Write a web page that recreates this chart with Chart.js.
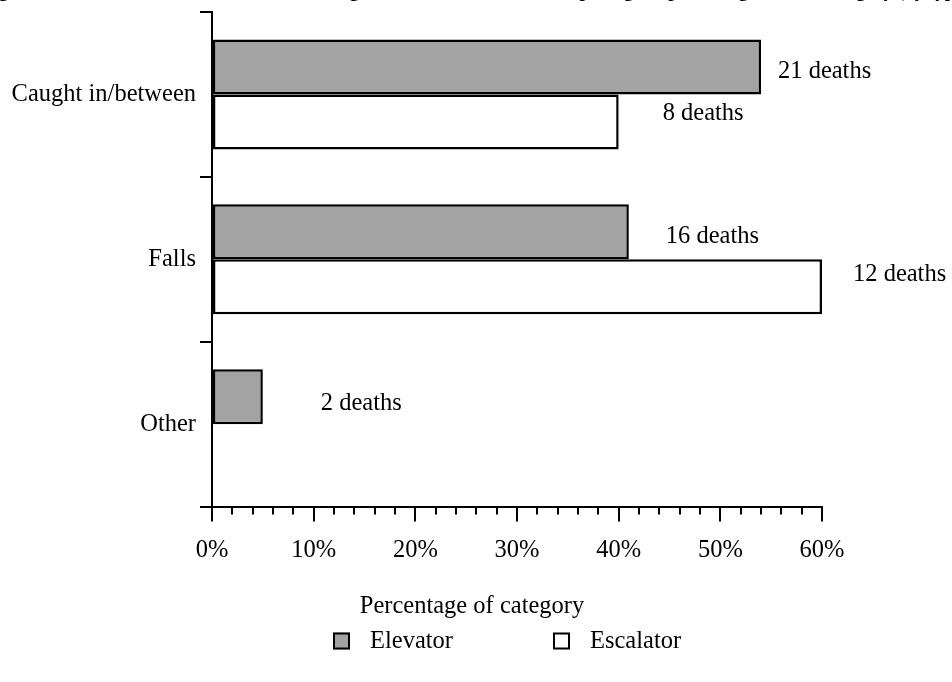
<!DOCTYPE html>
<html>
<head>
<meta charset="utf-8">
<script src="https://cdn.jsdelivr.net/npm/chart.js@4/dist/chart.umd.min.js"></script>
<style>
  html, body { margin: 0; padding: 0; background: #fff; }
  #wrap { position: relative; width: 952px; height: 682px; }
</style>
</head>
<body>
<div id="wrap"><canvas id="chart"></canvas></div>
<script>
// data
const categories = ["Caught in/between", "Falls", "Other"];
const elevatorPct = [54, 41, 5];
const escalatorPct = [40, 60, null];
const elevatorDeaths = [21, 16, 2];
const escalatorDeaths = [8, 12, null];
const xMajorTicks = [0, 10, 20, 30, 40, 50, 60];
const xMinorTicks = [2, 4, 6, 8, 12, 14, 16, 18, 22, 24, 26, 28, 32, 34, 36, 38, 42, 44, 46, 48, 52, 54, 56, 58];

const FONT = "'Liberation Serif', 'Times New Roman', serif";
const FS = 24.5;
const figTitle = "Figure 5. Elevator and escalator deaths among construction workers, comparing the percentage of each category (by type)";
const xTitle = "Percentage of category";

// label nudges (dx from bar end, dy from bar middle) like the hand placed ones
const labelOffsets = [
  [[17, 5], [37, 5], [58, 7]],
  [[44, -8], [31, -12], [0, 0]],
];

const minorTickPlugin = {
  id: "minorTicks",
  afterDraw(chart) {
    const { ctx, scales: { x }, chartArea } = chart;
    ctx.save();
    ctx.strokeStyle = "#000";
    ctx.lineWidth = 2;
    xMinorTicks.forEach((v) => {
      const px = Math.round(x.getPixelForValue(v));
      ctx.beginPath();
      ctx.moveTo(px, chartArea.bottom);
      ctx.lineTo(px, chartArea.bottom + 8);
      ctx.stroke();
    });
    ctx.restore();
  },
};

const deathLabelPlugin = {
  id: "deathLabels",
  afterDatasetsDraw(chart) {
    const { ctx } = chart;
    const deaths = [elevatorDeaths, escalatorDeaths];
    ctx.save();
    ctx.font = FS + "px " + FONT;
    ctx.fillStyle = "#000";
    ctx.textAlign = "left";
    ctx.textBaseline = "middle";
    chart.data.datasets.forEach((ds, di) => {
      const meta = chart.getDatasetMeta(di);
      meta.data.forEach((bar, i) => {
        const n = deaths[di][i];
        if (n == null) return;
        const [dx, dy] = labelOffsets[di][i];
        ctx.fillText(n + " deaths", bar.x + dx, bar.y + dy);
      });
    });
    ctx.restore();
  },
};

// figure title sits mostly above the page edge; axis title is centred on the page
const textPlugin = {
  id: "pageText",
  afterDraw(chart) {
    const { ctx } = chart;
    ctx.save();
    ctx.fillStyle = "#000";
    ctx.textAlign = "center";
    ctx.textBaseline = "alphabetic";
    ctx.font = "bold 19px " + FONT;
    ctx.fillText(figTitle, chart.width / 2, -3);
    ctx.font = FS + "px " + FONT;
    ctx.textBaseline = "middle";
    ctx.fillText(xTitle, 472, 607);
    ctx.restore();
  },
};

const legendPlugin = {
  id: "boxLegend",
  afterDraw(chart) {
    const { ctx } = chart;
    const xs = [333, 553];
    const y = 641;
    ctx.save();
    ctx.font = FS + "px " + FONT;
    ctx.textAlign = "left";
    ctx.textBaseline = "middle";
    chart.data.datasets.forEach((ds, i) => {
      ctx.fillStyle = ds.backgroundColor;
      ctx.fillRect(xs[i], y - 8.5, 17, 17);
      ctx.strokeStyle = "#000";
      ctx.lineWidth = 2;
      ctx.strokeRect(xs[i] + 1, y - 7.5, 15, 15);
      ctx.fillStyle = "#000";
      ctx.fillText(ds.label, xs[i] + 37, y + 1);
    });
    ctx.restore();
  },
};

new Chart(document.getElementById("chart"), {
  type: "bar",
  data: {
    labels: categories,
    datasets: [
      {
        label: "Elevator",
        data: elevatorPct,
        backgroundColor: "#a3a3a3",
        borderColor: "#000",
        borderWidth: 2.5,
        borderSkipped: false,
        categoryPercentage: 0.667,
        barPercentage: 1.0,
      },
      {
        label: "Escalator",
        data: escalatorPct,
        backgroundColor: "#ffffff",
        borderColor: "#000",
        borderWidth: 2.5,
        borderSkipped: false,
        categoryPercentage: 0.667,
        barPercentage: 1.0,
      },
    ],
  },
  options: {
    indexAxis: "y",
    responsive: true,
    maintainAspectRatio: false,
    animation: false,
    layout: { padding: { top: 12, right: 130, bottom: 103, left: 0 } },
    plugins: {
      legend: { display: false },
      tooltip: { enabled: false },
      title: { display: false },
    },
    scales: {
      x: {
        type: "linear",
        min: 0,
        max: 60,
        afterBuildTicks: (scale) => {
          scale.ticks = xMajorTicks.map((v) => ({ value: v }));
        },
        ticks: {
          color: "#000",
          font: { family: FONT, size: FS },
          padding: 14,
          maxRotation: 0,
          callback: (v) => v + "%",
        },
        grid: {
          drawOnChartArea: false,
          drawTicks: true,
          tickLength: 15,
          color: "#000",
          lineWidth: 2,
        },
        border: { display: true, color: "#000", width: 2 },
      },
      y: {
        type: "category",
        offset: true,
        afterFit: (scale) => {
          scale.width = 212;
          scale.paddingTop = 0;
          scale.paddingBottom = 0;
        },
        ticks: {
          color: "#000",
          font: { family: FONT, size: FS },
          padding: 4,
        },
        grid: {
          offset: true,
          drawOnChartArea: false,
          drawTicks: true,
          tickLength: 12,
          color: "#000",
          lineWidth: 2,
        },
        border: { display: true, color: "#000", width: 2 },
      },
    },
  },
  plugins: [minorTickPlugin, deathLabelPlugin, textPlugin, legendPlugin],
});
</script>
</body>
</html>
